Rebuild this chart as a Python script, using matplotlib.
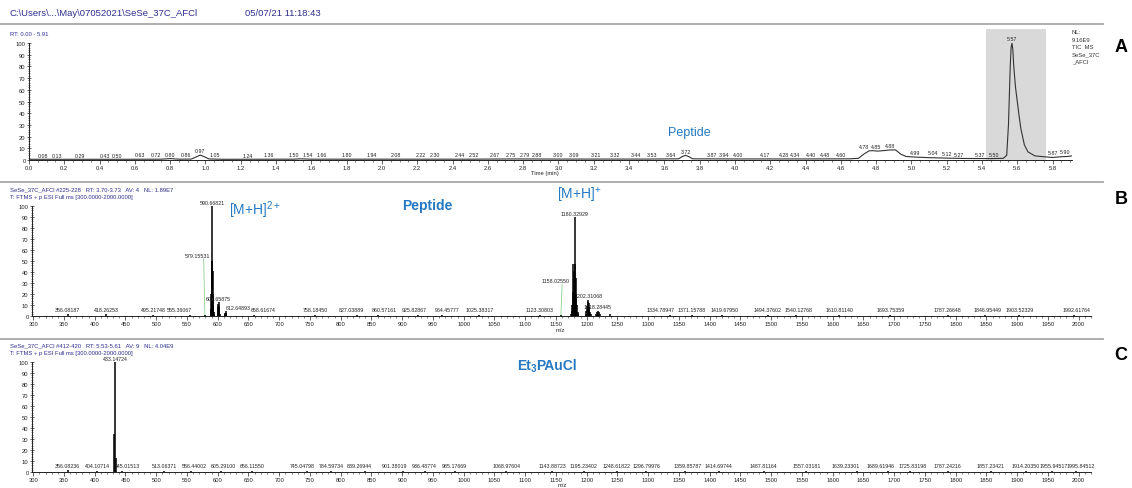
import numpy as np
import matplotlib
matplotlib.use('Agg')
import matplotlib.pyplot as plt
from matplotlib.ticker import MultipleLocator, FormatStrFormatter
from matplotlib.patches import Rectangle

plt.rcParams['font.family'] = ['Liberation Sans', 'DejaVu Sans']
plt.rcParams['mathtext.fontset'] = 'custom'
plt.rcParams['mathtext.rm'] = 'Liberation Sans'
plt.rcParams['mathtext.bf'] = 'Liberation Sans:bold'
plt.rcParams['mathtext.it'] = 'Liberation Sans:italic'

# ---------------- Panel A : TIC chromatogram ----------------
tic_time = [0.00, 0.10, 0.30, 0.50, 0.75, 0.80, 0.85, 0.92, 0.95, 0.97, 0.99, 1.02,
            1.10, 1.50, 1.54, 1.60, 2.00, 2.50, 2.75, 3.00, 3.50, 3.68, 3.70, 3.72,
            3.74, 3.76, 4.00, 4.40, 4.65, 4.70, 4.73, 4.76, 4.78, 4.81, 4.84, 4.88,
            4.91, 4.94, 4.97, 5.02, 5.10, 5.20, 5.30, 5.45, 5.52, 5.54, 5.55, 5.56,
            5.565, 5.57, 5.575, 5.58, 5.59, 5.60, 5.61, 5.62, 5.64, 5.66, 5.70,
            5.75, 5.80, 5.85, 5.88, 5.91]
tic_int = [0.6, 0.6, 0.6, 0.6, 0.7, 1.2, 0.7, 0.8, 2.8, 4.2, 3.0, 0.9,
           0.6, 0.7, 1.0, 0.7, 0.7, 0.7, 0.9, 0.8, 0.8, 1.0, 2.8, 4.0,
           2.8, 1.0, 0.9, 0.9, 1.0, 1.4, 5.0, 7.8, 8.0, 7.6, 8.0, 8.6,
           8.6, 5.0, 3.0, 2.5, 2.0, 1.6, 1.3, 1.2, 1.4, 4.0, 30, 80,
           96, 100, 94, 80, 62, 50, 38, 27, 13, 7, 3.5,
           2.8, 2.2, 2.8, 3.0, 3.5]
tic_labels = [0.08, 0.13, 0.29, 0.43, 0.50, 0.63, 0.72, 0.80, 0.86, 0.97, 1.05, 1.24,
              1.36, 1.50, 1.54, 1.66, 1.80, 1.94, 2.08, 2.22, 2.30, 2.44, 2.52, 2.67,
              2.75, 2.79, 2.88, 3.00, 3.09, 3.21, 3.32, 3.44, 3.53, 3.64, 3.72, 3.87,
              3.94, 4.00, 4.17, 4.28, 4.34, 4.40, 4.48, 4.60, 4.78, 4.85, 4.88, 4.99,
              5.04, 5.12, 5.27, 5.37, 5.50, 5.57, 5.87, 5.90]
# label nudges (minutes): the instrument software spreads crowded labels
tic_label_shift = {0.13: 0.03, 0.86: 0.03, 1.54: 0.04, 2.67: -0.03, 2.75: -0.02,
                   2.79: 0.02, 4.00: 0.02, 4.40: 0.03, 4.48: 0.03, 4.78: -0.05,
                   4.85: -0.05, 4.99: 0.03, 5.04: 0.08, 5.12: 0.08, 5.37: 0.02,
                   5.50: -0.03, 5.87: -0.07, 5.90: -0.03}

# ---------------- Panel B : peptide spectrum ----------------
b_mz = [356.08, 418.26, 495.22, 555.36, 579.16,
        589.17, 589.67, 590.17, 590.67, 591.17, 591.67, 592.17, 592.67, 593.17, 593.67,
        600.16, 600.66, 601.16, 601.66, 602.16, 602.66, 603.16,
        611.65, 612.15, 612.65, 613.15, 613.65,
        658.62, 758.18, 827.04, 860.57, 925.83, 964.46, 1025.38, 1123.31, 1158.03,
        1174.3, 1175.3, 1176.3, 1177.3, 1178.3, 1179.3, 1180.33, 1181.3, 1182.3,
        1183.3, 1184.3, 1185.3, 1186.3,
        1198.3, 1199.3, 1200.3, 1201.3, 1202.31, 1203.3, 1204.3, 1205.3, 1206.3,
        1214.3, 1216.3, 1218.28, 1220.3, 1222.3, 1238.3,
        1334.79, 1371.16, 1419.68, 1494.38, 1540.13, 1610.81, 1693.75, 1787.27,
        1846.95, 1903.52, 1992.62]
b_int = [1.5, 1.5, 0.8, 0.8, 1.0,
         6, 20, 50, 100, 50, 41, 20, 9, 4, 1.5,
         3, 8, 11, 13, 9, 5, 2,
         1.5, 3, 4.5, 3, 1.5,
         0.8, 0.6, 0.6, 0.6, 0.8, 0.6, 0.6, 0.6, 1.0,
         2, 5, 10, 22, 47, 41, 90, 47, 35,
         20, 10, 4, 2,
         2, 5, 9, 13, 15, 12, 8, 4, 2,
         2, 4, 5, 4, 2, 2,
         0.8, 0.6, 0.6, 0.6, 0.8, 0.6, 0.6, 0.6,
         0.6, 0.6, 0.6]
b_labels = [356.08187, 418.26253, 495.21748, 555.36067, 579.15531, 590.66821,
            601.65875, 612.64893, 658.61674, 758.18450, 827.03889, 860.57161,
            925.82867, 964.45777, 1025.38317, 1123.30803, 1158.02550, 1180.32929,
            1202.31068, 1218.28445, 1334.78947, 1371.15788, 1419.67950, 1494.37602,
            1540.12768, 1610.81140, 1693.75359, 1787.26648, 1846.95449, 1903.52329,
            1992.61764]
b_label_int = [2.5, 2.5, 2.5, 2.5, 52, 100, 13, 4.5, 2.5, 2.5, 2.5, 2.5,
               2.5, 2.5, 2.5, 2.5, 29, 90, 15, 5, 2.5, 2.5, 2.5, 2.5,
               2.5, 2.5, 2.5, 2.5, 2.5, 2.5, 2.5]
b_label_shift = {555.36067: -18, 579.15531: -12, 612.64893: 20, 658.61674: 15,
                 827.03889: -10, 860.57161: 10, 925.82867: -6, 964.45777: 8,
                 1158.02550: -8, 1334.78947: -14, 1419.67950: 4, 1540.12768: 4,
                 1846.95449: 4, 1992.61764: 3}
b_leaders = [579.15531, 1158.02550]

# ---------------- Panel C : Et3PAuCl spectrum ----------------
c_mz = [356.08, 404.11, 431.65, 433.15, 434.65, 445.02, 513.06, 556.44, 605.29, 656.12,
        745.05, 784.60, 839.27, 901.38, 936.49, 985.18, 1068.98, 1143.89, 1195.23,
        1248.62, 1296.80, 1359.86, 1414.70, 1487.81, 1557.03, 1639.23, 1689.62,
        1725.83, 1787.24, 1857.23, 1914.20, 1955.95, 1995.85]
c_int = [1.5, 0.7, 35, 100, 13, 0.7, 0.6, 0.6, 0.6, 0.6,
         0.6, 0.6, 0.6, 0.6, 0.6, 0.6, 0.6, 0.6, 0.6,
         0.6, 0.6, 0.6, 0.6, 0.6, 0.6, 0.6, 0.6,
         0.6, 0.6, 0.6, 0.6, 0.6, 0.6]
c_labels = [356.08236, 404.10714, 433.14724, 445.01513, 513.06371, 556.44002, 605.29100,
            656.11550, 745.04798, 784.59734, 839.26944, 901.38019, 936.48774, 985.17669,
            1068.97604, 1143.88723, 1195.23402, 1248.61822, 1296.79976, 1359.85787,
            1414.69744, 1487.81164, 1557.03181, 1639.23301, 1689.61946, 1725.83198,
            1787.24216, 1857.23421, 1914.20350, 1955.94517, 1995.84512]
c_label_int = [2.5, 2.5, 100, 2.5, 2.5, 2.5, 2.5, 2.5, 2.5, 2.5, 2.5, 2.5, 2.5, 2.5,
               2.5, 2.5, 2.5, 2.5, 2.5, 2.5, 2.5, 2.5, 2.5, 2.5, 2.5, 2.5,
               2.5, 2.5, 2.5, 2.5, 2.5]
c_label_shift = {445.01513: 8, 556.44002: 5, 605.29100: 4, 745.04798: -8,
                 839.26944: -9, 901.38019: -14, 1359.85787: 5, 1639.23301: -18,
                 1689.61946: -12, 1725.83198: 4, 1955.94517: 4, 1995.84512: 8}

# ---------------- figure ----------------
W, H = 1132, 489
fig = plt.figure(figsize=(W / 100, H / 100), dpi=100)
fig.patch.set_facecolor('white')

NAVY = '#2e2e8f'
BLUE = '#2479c2'
TICK_FS = 4.2
LBL_FS = 3.8


def fx(x):
    return x / W


def fy(y):
    return 1 - y / H


def px_axes(left, right, top, bottom):
    return fig.add_axes([left / W, 1 - bottom / H, (right - left) / W, (bottom - top) / H])


def style(ax, xmaj, xmin, fmt):
    for s in ['top', 'right']:
        ax.spines[s].set_visible(False)
    for s in ['left', 'bottom']:
        ax.spines[s].set_linewidth(0.7)
        ax.spines[s].set_color('#222222')
    ax.set_ylim(0, 100)
    ax.yaxis.set_major_locator(MultipleLocator(10))
    ax.yaxis.set_minor_locator(MultipleLocator(2))
    ax.xaxis.set_major_locator(MultipleLocator(xmaj))
    ax.xaxis.set_minor_locator(MultipleLocator(xmin))
    ax.xaxis.set_major_formatter(FormatStrFormatter(fmt))
    ax.tick_params(axis='both', which='major', labelsize=TICK_FS, length=2.6, width=0.5,
                   pad=1.2, colors='#222222')
    ax.tick_params(axis='both', which='minor', length=1.4, width=0.4, colors='#222222')
    ax.tick_params(axis='x', which='both', direction='out')
    ax.tick_params(axis='y', which='both', direction='inout')
    ax.patch.set_alpha(0)


# separators
for yy in [25, 183, 340]:
    fig.add_artist(plt.Line2D([0, fx(1103)], [fy(yy), fy(yy)], color='#a8a8a8', lw=1.3))

fig.text(fx(10), fy(13), r'C:\Users\...\May\07052021\SeSe_37C_AFCl', fontsize=6.8,
         color=NAVY, va='center', ha='left')
fig.text(fx(245), fy(13), '05/07/21 11:18:43', fontsize=6.8, color=NAVY, va='center', ha='left')

# ---------- Panel A ----------
axA = px_axes(29, 1072, 44, 161)
style(axA, 0.2, 0.05, '%.1f')
axA.set_xlim(0, 5.91)
axA.add_patch(Rectangle((5.42, 0), 0.34, 112, facecolor='#d9d9d9', edgecolor='none',
                        zorder=0, clip_on=False))
axA.plot(tic_time, tic_int, color='#333333', lw=0.8, zorder=3)
for t in tic_labels:
    yv = np.interp(t, tic_time, tic_int)
    axA.text(t + tic_label_shift.get(t, 0), yv + 1.5, f'{t:.2f}', fontsize=LBL_FS,
             ha='center', va='bottom', color='#222222', clip_on=False)
fig.text(fx(10), fy(35), 'RT: 0.00 - 5.91', fontsize=4.2, color=NAVY, va='center')
fig.text(fx(545), fy(174), 'Time (min)', fontsize=4.2, ha='center', va='center', color='#222222')
for i, s in enumerate(['NL:', '9.16E9', 'TIC  MS', 'SeSe_37C', '_AFCl']):
    fig.text(fx(1072), fy(33 + i * 7.3), s, fontsize=4.2, va='center', ha='left', color='#333333')
fig.text(fx(1121), fy(47), 'A', fontsize=13, fontweight='bold', ha='center', va='center')
fig.text(fx(689), fy(133), 'Peptide', fontsize=9, color=BLUE, ha='center', va='center')


def spectrum(ax, mz, inten, labels, label_int, shifts, leaders):
    ax.set_xlim(298, 2020)
    ax.vlines(mz, 0, inten, color='black', lw=1.1, zorder=3)
    for m, li in zip(labels, label_int):
        dx = shifts.get(m, 0)
        ax.text(m + dx, li + 1.0, f'{m:.5f}', fontsize=LBL_FS, ha='center', va='bottom',
                color='#222222', clip_on=False)
        if m in leaders:
            ax.plot([m + dx + 10, m], [li, 0.5], color='#8fd18f', lw=0.6, zorder=2)


# ---------- Panel B ----------
axB = px_axes(32, 32 + 1722 * 0.615, 207, 317)
style(axB, 50, 10, '%d')
spectrum(axB, b_mz, b_int, b_labels, b_label_int, b_label_shift, b_leaders)
fig.text(fx(10), fy(190), 'SeSe_37C_AFCl #225-228   RT: 3.70-3.73   AV: 4   NL: 1.89E7',
         fontsize=4.2, color=NAVY, va='center')
fig.text(fx(10), fy(197.5), 'T: FTMS + p ESI Full ms [300.0000-2000.0000]',
         fontsize=4.2, color=NAVY, va='center')
fig.text(fx(560), fy(331), 'm/z', fontsize=4.2, ha='center', va='center', color='#222222')
fig.text(fx(1121), fy(200), 'B', fontsize=13, fontweight='bold', ha='center', va='center')
fig.text(fx(255), fy(210), r'$\mathregular{[M{+}H]^{2+}}$', fontsize=10, color=BLUE,
         ha='center', va='center')
fig.text(fx(427), fy(206), 'Peptide', fontsize=10, fontweight='bold', color=BLUE,
         ha='center', va='center')
fig.text(fx(579), fy(196), r'$\mathregular{[M{+}H]^{+}}$', fontsize=10, color=BLUE,
         ha='center', va='center')

# ---------- Panel C ----------
axC = px_axes(32, 32 + 1722 * 0.615, 363, 473)
style(axC, 50, 10, '%d')
spectrum(axC, c_mz, c_int, c_labels, c_label_int, c_label_shift, [])
fig.text(fx(10), fy(346), 'SeSe_37C_AFCl #412-420   RT: 5.53-5.61   AV: 9   NL: 4.04E9',
         fontsize=4.2, color=NAVY, va='center')
fig.text(fx(10), fy(353.5), 'T: FTMS + p ESI Full ms [300.0000-2000.0000]',
         fontsize=4.2, color=NAVY, va='center')
fig.text(fx(562), fy(486), 'm/z', fontsize=4.2, ha='center', va='center', color='#222222')
fig.text(fx(1121), fy(356), 'C', fontsize=13, fontweight='bold', ha='center', va='center')

# "Et3PAuCl" title built from pieces so the subscript sits tight
renderer = fig.canvas.get_renderer()
pieces = [('Et', 10, 0), ('3', 7, 3.5), ('PAuCl', 10, 0)]
arts = []
for s, fs, dy in pieces:
    arts.append(fig.text(0, fy(366 + dy), s, fontsize=fs, fontweight='bold', color=BLUE,
                         ha='left', va='center'))
widths = [a.get_window_extent(renderer).width for a in arts]
x = 547 - sum(widths) / 2
for a, w in zip(arts, widths):
    a.set_x(fx(x))
    x += w

fig.savefig('out.png', dpi=100)
